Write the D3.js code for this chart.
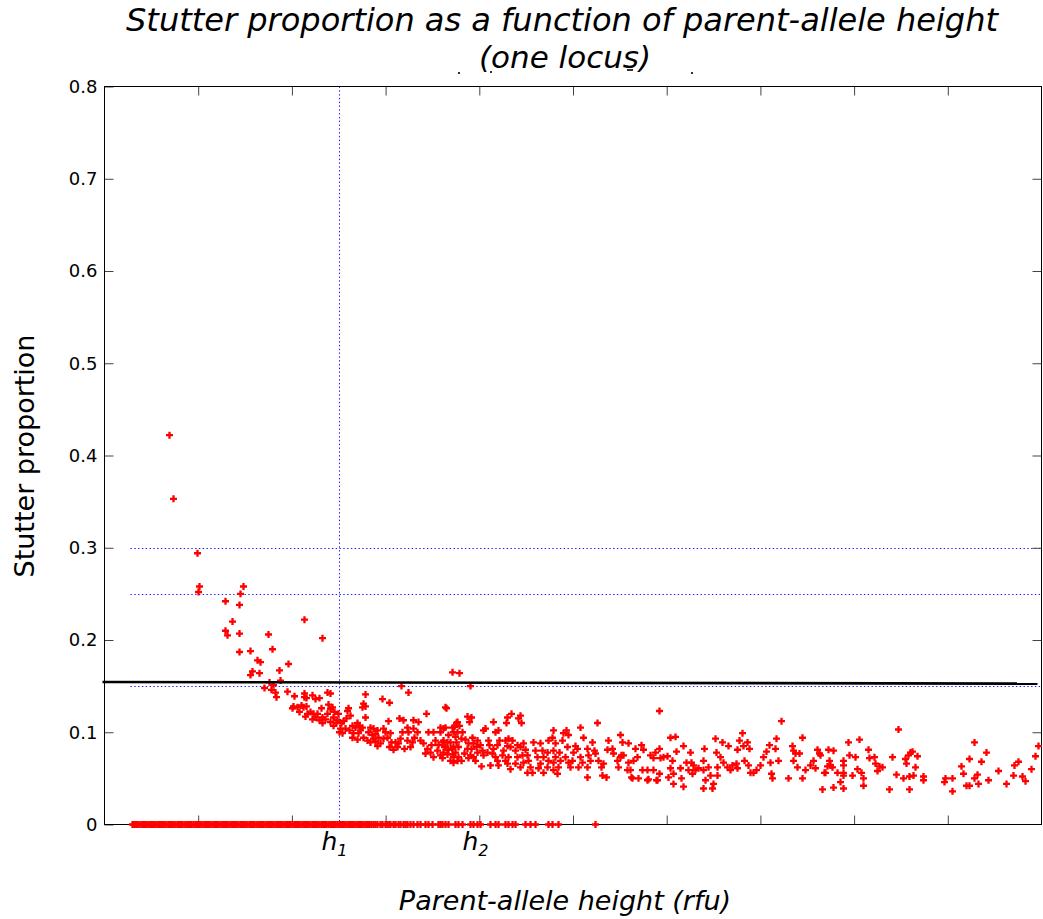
<!DOCTYPE html>
<html>
<head>
<meta charset="utf-8">
<script src="https://cdn.jsdelivr.net/npm/d3@7"></script>
<style>
  body { margin: 0; background: #fff; }
  svg { display: block; }
</style>
</head>
<body>
<svg id="chart" width="1043" height="919"></svg>
<script>
// ---- data ----------------------------------------------------------------
// Axis ticks
const yTicks = [0, 0.1, 0.2, 0.3, 0.4, 0.5, 0.6, 0.7, 0.8];
const yTickLabels = ["0", "0.1", "0.2", "0.3", "0.4", "0.5", "0.6", "0.7", "0.8"];
const xTicks = [937, 1874, 2811, 3748, 4685, 5622, 6559, 7496, 8433];
const xDomain = [0, 9370];          // parent-allele height, rfu
const yDomain = [0, 0.8];           // stutter proportion

// Threshold marks
const hMarks = [2340, 3750];        // h1, h2 (rfu)
const hLabels = ["1", "2"];
const refLevels = [0.3, 0.25, 0.15];
const refStart = 260;
const fitLine = [[-20, 0.1545], [9330, 0.1527]];

// Observed stutter proportions [parent height (rfu), proportion]
const stutterHigh = [
  [650,0.422],[690,0.353],[930,0.294],[950,0.258],[940,0.252],[1390,0.258],[1360,0.250],
  [1210,0.242],[1350,0.238],[1280,0.220],[1210,0.210],[1230,0.205],[1350,0.207],[1640,0.206],
  [2000,0.222],[2180,0.202],[1680,0.190],[1350,0.187],[1460,0.188],[1530,0.178],[1560,0.176],
  [1840,0.174],[1480,0.166],[1460,0.162],[1550,0.164],[1750,0.167],[1760,0.156],[1650,0.154],
  [1690,0.151],[1600,0.148],[1670,0.146],[1710,0.143],[1720,0.138],[1830,0.144],[1900,0.139],
  [2000,0.142],[2000,0.138],[2020,0.137],[2080,0.140],[2150,0.137],[2110,0.136],[2230,0.143],
  [2260,0.142],[2610,0.141],[2780,0.136],[2970,0.150],[3040,0.143],[3480,0.165],[3550,0.164],
  [3660,0.150],[3410,0.127],[2850,0.132]
];

const stutterMid = [
  [1890,0.128],[1930,0.127],[1880,0.126],[1970,0.129],[1990,0.127],[2020,0.128],[1950,0.122],
  [2060,0.122],[2030,0.120],[2010,0.117],[2090,0.120],[2110,0.116],[2080,0.114],[2130,0.120],
  [2170,0.126],[2180,0.116],[2150,0.113],[2180,0.110],[2210,0.114],[2230,0.120],[2260,0.125],
  [2240,0.130],[2280,0.127],[2300,0.122],[2290,0.116],[2260,0.111],[2290,0.107],[2330,0.113],
  [2340,0.120],[2320,0.110],[2370,0.110],[2360,0.104],[2380,0.099],[2350,0.100],[2440,0.126],
  [2430,0.123],[2460,0.118],[2420,0.115],[2390,0.112],[2410,0.104],[2450,0.102],[2480,0.107],
  [2590,0.131],[2610,0.128],[2580,0.127],[2610,0.116],[2530,0.110],[2550,0.107],[2510,0.105],
  [2560,0.102],[2540,0.099],[2490,0.099],[2480,0.094],[2530,0.092],[2590,0.094],[2580,0.105],
  [2660,0.105],[2690,0.104],[2730,0.102],[2710,0.098],[2680,0.097],[2640,0.100],[2630,0.091],
  [2660,0.089],[2710,0.090],[2740,0.094],[2760,0.088],[2730,0.085],[2690,0.093],[2790,0.104],
  [2810,0.100],[2790,0.093],[2830,0.094],[2860,0.099],[2840,0.112],[2870,0.089],[2850,0.084],
  [2890,0.081],[2930,0.084],[2910,0.089],[2940,0.088],[2960,0.093],[2980,0.100],[2950,0.115],
  [2990,0.113],[3030,0.105],[3040,0.100],[3030,0.091],[3000,0.082],[3060,0.084],[3080,0.089],
  [3100,0.094],[3130,0.100],[3090,0.104],[3140,0.111],[3090,0.113],[3160,0.091],[3190,0.088],
  [3230,0.082],[3210,0.077],[3260,0.078],[3290,0.073],[3270,0.086],[3310,0.091],[3340,0.086],
  [3330,0.080],[3360,0.075],[3390,0.078],[3410,0.084],[3380,0.089],[3390,0.104],[3360,0.100],
  [3410,0.105],[3440,0.097],[3460,0.089],[3480,0.082],[3490,0.073],[3530,0.069],[3510,0.078],
  [3520,0.089],[3490,0.100],[3530,0.111],[3550,0.107],[3480,0.105],[3290,0.100],[3240,0.100],
  [3220,0.120],[3420,0.126]
];

const stutterCloud = [
  [3630,0.117],[3670,0.116],[3650,0.111],[3520,0.110],[3500,0.106],[3530,0.100],[3580,0.100],
  [3510,0.095],[3570,0.093],[3610,0.092],[3360,0.105],[3390,0.091],[3430,0.089],[3400,0.084],
  [3440,0.081],[3490,0.084],[3540,0.084],[3480,0.076],[3430,0.076],[3380,0.072],[3460,0.069],
  [3490,0.067],[3540,0.073],[3570,0.069],[3600,0.077],[3630,0.082],[3640,0.088],[3680,0.094],
  [3690,0.088],[3670,0.082],[3660,0.075],[3640,0.072],[3690,0.073],[3710,0.069],[3730,0.078],
  [3720,0.084],[3730,0.091],[3760,0.086],[3780,0.080],[3790,0.075],[3770,0.063],[3830,0.078],
  [3850,0.086],[3840,0.091],[3810,0.104],[3790,0.102],[3890,0.111],[3910,0.100],[3940,0.102],
  [3950,0.091],[3930,0.086],[3890,0.082],[3880,0.077],[3910,0.073],[3930,0.069],[3860,0.064],
  [3940,0.064],[3980,0.075],[3990,0.080],[4030,0.085],[4010,0.091],[4040,0.093],[4080,0.091],
  [4060,0.084],[4040,0.073],[4010,0.069],[4030,0.066],[4060,0.060],[4110,0.066],[4130,0.073],
  [4110,0.080],[4130,0.086],[4160,0.084],[4180,0.075],[4190,0.067],[4160,0.062],[4070,0.120],
  [4030,0.116],[4020,0.110],[4160,0.118],[4140,0.115],[4170,0.110],[4190,0.088],[4210,0.081],
  [4230,0.075],[4240,0.069],[4260,0.062],[4230,0.056],[4280,0.056],[4290,0.089],[4310,0.080],
  [4330,0.073],[4360,0.088],[4380,0.080],[4390,0.073],[4360,0.066],[4340,0.061],[4390,0.056],
  [4430,0.062],[4440,0.069],[4430,0.078],[4440,0.091],[4480,0.094],[4490,0.102],[4510,0.088],
  [4490,0.080],[4510,0.073],[4490,0.067],[4490,0.059],[4530,0.055],[4540,0.062],[4560,0.069],
  [4550,0.078],[4580,0.091],[4590,0.099],[4620,0.102],[4640,0.097],[4630,0.084],[4610,0.073],
  [4640,0.067],[4660,0.062],[4680,0.069],[4690,0.078],[4710,0.085],[4730,0.082],[4760,0.073],
  [4780,0.067],[4740,0.062],[4760,0.105],[4790,0.094],[4830,0.082],[4840,0.075],[4860,0.069],
  [4830,0.062],[4880,0.089],[4900,0.080],[4930,0.110],[4910,0.077],[4940,0.069],[4970,0.062],
  [4990,0.066],[4980,0.053],[5030,0.081],[5040,0.091],[5080,0.082],[5090,0.077],[5130,0.069],
  [5140,0.062],[5160,0.097],[5180,0.089],[5160,0.073],[5190,0.075],[5240,0.088],[5240,0.067],
  [5260,0.059],[5270,0.051],[5290,0.069],[5310,0.082],[5330,0.073],[5340,0.050],[4830,0.051],
  [5020,0.051]
];

const stutterTail = [
  [5550,0.123],[6770,0.112],[5170,0.075],[5230,0.059],[5280,0.050],[5370,0.086],[5390,0.081],
  [5380,0.059],[5430,0.048],[5430,0.059],[5460,0.075],[5490,0.072],[5510,0.078],[5490,0.059],
  [5530,0.048],[5550,0.082],[5560,0.072],[5550,0.055],[5590,0.073],[5630,0.074],[5660,0.094],
  [5680,0.069],[5660,0.061],[5640,0.051],[5690,0.055],[5710,0.095],[5720,0.079],[5690,0.044],
  [5760,0.061],[5770,0.050],[5790,0.041],[5790,0.085],[5820,0.067],[5840,0.059],[5860,0.078],
  [5870,0.067],[5880,0.055],[5890,0.064],[5910,0.059],[5940,0.061],[5990,0.069],[6000,0.082],
  [5990,0.059],[6010,0.048],[6040,0.062],[6060,0.053],[6110,0.093],[6120,0.078],[6130,0.062],
  [6130,0.053],[6160,0.073],[6180,0.089],[6190,0.067],[6230,0.062],[6240,0.085],[6260,0.059],
  [6280,0.064],[6320,0.066],[6330,0.061],[6330,0.081],[6350,0.091],[6380,0.099],[6390,0.085],
  [6400,0.069],[6430,0.089],[6450,0.082],[6440,0.064],[6460,0.056],[6490,0.056],[6520,0.059],
  [6560,0.064],[6590,0.073],[6620,0.079],[6650,0.086],[6660,0.067],[6670,0.055],[6680,0.050],
  [6710,0.082],[6720,0.093],[6740,0.069],[6840,0.050],[6880,0.085],[6890,0.080],[6890,0.069],
  [6910,0.077],[6930,0.062],[6950,0.077],[6980,0.050],[6980,0.094],[7010,0.059],[7060,0.064],
  [7090,0.069],[7110,0.061],[7130,0.081],[7150,0.077],[7200,0.056],[7230,0.063],[7240,0.081],
  [7250,0.069],[5990,0.039],[6080,0.039],[7180,0.038],[6090,0.044],[5440,0.049],[5520,0.048],
  [7160,0.075],[7210,0.056],[7290,0.080],[7260,0.064],[7280,0.062],[7290,0.040],[7330,0.056],
  [7360,0.046],[7390,0.069],[7390,0.064],[7390,0.056],[7390,0.053],[7390,0.039],[7440,0.089],
  [7450,0.075],[7480,0.053],[7510,0.073],[7530,0.060],[7550,0.092],[7570,0.056],[7590,0.050],
  [7590,0.042],[7640,0.081],[7650,0.072],[7700,0.073],[7710,0.066],[7730,0.058],[7750,0.063],
  [7780,0.062],[7850,0.038],[7880,0.073],[7920,0.054],[7940,0.103],[7990,0.050],[8010,0.071],
  [8020,0.066],[8040,0.075],[8060,0.078],[8080,0.079],[8050,0.052],[8090,0.053],[8110,0.062],
  [8130,0.074],[8190,0.052],[8190,0.048],[8050,0.038],[8400,0.046],[8410,0.050],[8480,0.050],
  [8570,0.063],[8590,0.055],[8620,0.042],[8650,0.042],[8650,0.071],[8700,0.089],[8700,0.050],
  [8730,0.054],[8740,0.044],[8770,0.068],[8820,0.078],[8840,0.048],[8940,0.058],[9020,0.044],
  [9090,0.053],[9100,0.064],[9140,0.068],[9180,0.052],[9210,0.047],[9270,0.060],[9310,0.074],
  [9340,0.085],[8480,0.036]
];

// Parent heights with no detected stutter (proportion 0)
const zeroStutterHeights = [
  280,295,315,330,350,370,385,405,420,440,455,475,495,510,530,545,565,585,600,620,640,655,
  675,690,710,730,745,765,780,800,820,835,855,870,890,910,925,945,960,980,1000,1015,1035,
  1050,1070,1090,1105,1125,1140,1160,1180,1195,1215,1230,1250,1270,1285,1305,1320,1340,1360,
  1375,1395,1410,1430,1450,1465,1485,1500,1520,1540,1555,1575,1590,1610,1630,1645,1665,1680,
  1700,1720,1735,1755,1770,1790,1810,1825,1845,1860,1880,1900,1915,1935,1950,1970,1990,2005,
  2025,2040,2060,2080,2095,2115,2130,2150,2170,2185,2205,2220,2240,2260,2275,2295,2310,2330,
  2350,2365,2385,2400,2420,2440,2455,2475,2490,2510,2530,2545,2565,2580,2600,2620,2635,
  2650,2670,2690,2710,2730,2760,2780,2810,2830,2850,2860,2890,2910,2940,2960,2990,3010,3030,
  3060,3090,3130,3160,3210,3240,3280,3340,3360,3380,3410,3440,3510,3540,3580,3660,3690,3730,
  3760,3860,3910,3940,4010,4040,4080,4110,4210,4260,4310,4440,4480,4540,4910
];

// ---- layout ----------------------------------------------------------------
const svg = d3.select("#chart");
const W = 1043, H = 919;
const plot = { left: 104.5, right: 1041.5, top: 86.5, bottom: 824.5 };

const x = d3.scaleLinear().domain(xDomain).range([plot.left, plot.right]);
const y = d3.scaleLinear().domain(yDomain).range([plot.bottom, plot.top]);

svg.append("rect").attr("width", W).attr("height", H).attr("fill", "#fff");

const sans = "'DejaVu Sans', Verdana, sans-serif";

// Title
const title = svg.append("text")
  .attr("text-anchor", "middle")
  .attr("font-family", sans)
  .attr("font-style", "italic")
  .attr("font-size", 32)
  .attr("fill", "#000");
title.append("tspan").attr("x", 562).attr("y", 31)
  .text("Stutter proportion as a function of parent-allele height");
title.append("tspan").attr("x", 565).attr("y", 68).attr("font-size", 31).text("(one locus)");

// small marks under the second title line
svg.append("g").selectAll("rect")
  .data([[458, 72], [490, 71], [627, 69], [691, 72]])
  .join("rect")
  .attr("x", d => d[0]).attr("y", d => d[1])
  .attr("width", (d, i) => i === 2 ? 6 : 2).attr("height", 2)
  .attr("fill", "#333");

// Reference lines (dotted, blue)
const refG = svg.append("g")
  .attr("stroke", "#1a1aff").attr("stroke-width", 1)
  .attr("stroke-dasharray", "1.4,2.4");
refG.selectAll("line.h").data(refLevels).join("line").attr("class", "h")
  .attr("x1", x(refStart)).attr("x2", x(xDomain[1]))
  .attr("y1", d => Math.round(y(d)) + 0.5).attr("y2", d => Math.round(y(d)) + 0.5);
refG.append("line")
  .attr("x1", Math.round(x(hMarks[0])) + 0.5).attr("x2", Math.round(x(hMarks[0])) + 0.5)
  .attr("y1", y(yDomain[1])).attr("y2", y(0));

// Axes: ticks on all four sides, pointing inward
const axisStyle = g => {
  g.select(".domain").remove();
  g.selectAll(".tick line").attr("stroke", "#444");
};
svg.append("g").attr("transform", `translate(${plot.left},0)`)
  .call(d3.axisLeft(y).tickValues(yTicks).tickSize(-9).tickPadding(7)
    .tickFormat((d, i) => yTickLabels[i]))
  .call(axisStyle)
  .call(g => g.selectAll("text").attr("font-family", sans).attr("font-size", 18).attr("fill", "#000"));
svg.append("g").attr("transform", `translate(${plot.right},0)`)
  .call(d3.axisRight(y).tickValues(yTicks.slice(1, -1)).tickSize(-9).tickFormat(""))
  .call(axisStyle);
svg.append("g").attr("transform", `translate(0,${plot.bottom})`)
  .call(d3.axisBottom(x).tickValues(xTicks).tickSize(-9).tickFormat(""))
  .call(axisStyle);
svg.append("g").attr("transform", `translate(0,${plot.top})`)
  .call(d3.axisTop(x).tickValues(xTicks).tickSize(-9).tickFormat(""))
  .call(axisStyle);

svg.append("rect")
  .attr("x", plot.left).attr("y", plot.top)
  .attr("width", plot.right - plot.left).attr("height", plot.bottom - plot.top)
  .attr("fill", "none").attr("stroke", "#000").attr("stroke-width", 1);

// Points
const cross = d3.symbol(d3.symbolCross, 27)();
const allPoints = stutterHigh.concat(stutterMid, stutterCloud, stutterTail,
  zeroStutterHeights.map(h => [h, 0]));
svg.append("g").attr("fill", "#ff0000")
  .selectAll("path").data(allPoints).join("path")
  .attr("d", cross)
  .attr("transform", d => `translate(${x(d[0])},${y(d[1])})`);

// Fitted level
svg.append("line")
  .attr("x1", x(fitLine[0][0])).attr("y1", y(fitLine[0][1]))
  .attr("x2", x(fitLine[1][0])).attr("y2", y(fitLine[1][1]))
  .attr("stroke", "#000").attr("stroke-width", 2.6);

// h1 / h2 labels
const hG = svg.append("g").attr("font-family", sans).attr("font-style", "italic").attr("fill", "#000");
hMarks.forEach((h, i) => {
  const t = hG.append("text").attr("x", x(h) - 17).attr("y", 850).attr("font-size", 25);
  t.append("tspan").text("h");
  t.append("tspan").attr("font-size", 16).attr("dy", 6).text(hLabels[i]);
});

// Axis titles
svg.append("text")
  .attr("x", 565).attr("y", 910)
  .attr("text-anchor", "middle")
  .attr("font-family", sans).attr("font-style", "italic").attr("font-size", 27)
  .text("Parent-allele height (rfu)");
svg.append("text")
  .attr("transform", "translate(34,456) rotate(-90)")
  .attr("text-anchor", "middle")
  .attr("font-family", sans).attr("font-size", 27)
  .text("Stutter proportion");
</script>
</body>
</html>
